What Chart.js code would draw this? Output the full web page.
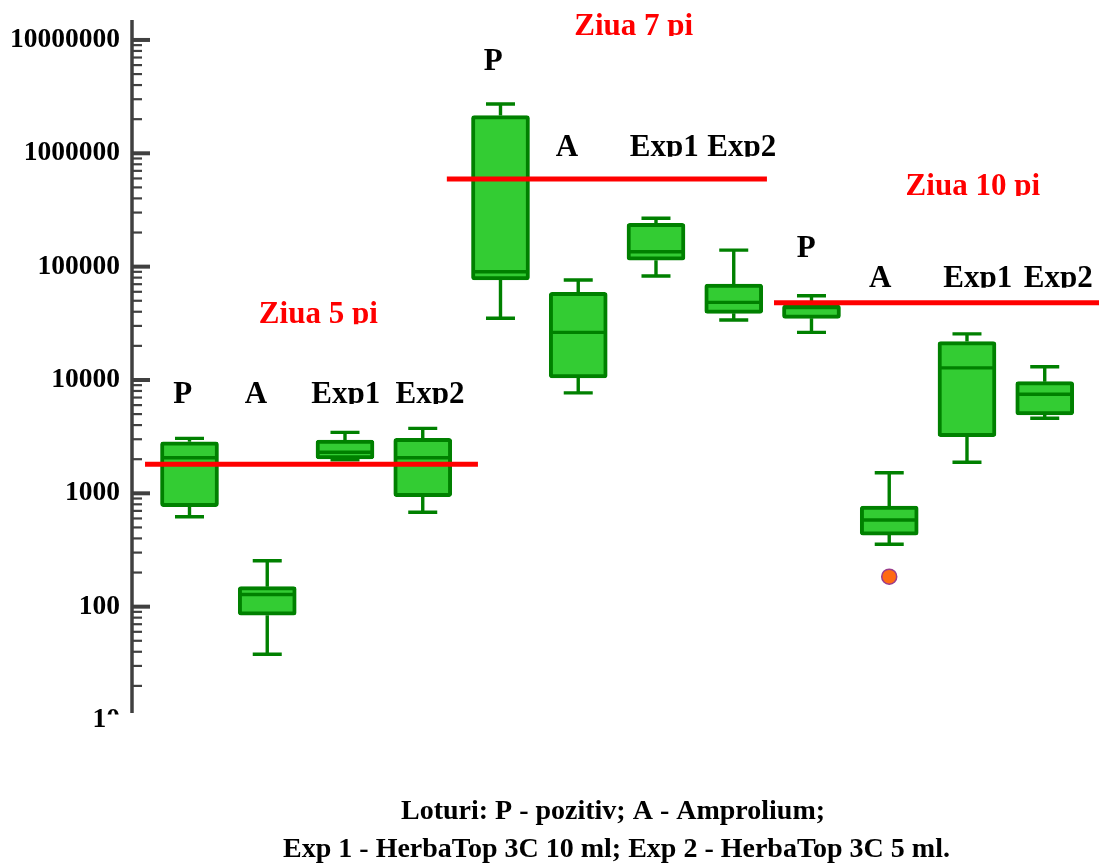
<!DOCTYPE html>
<html><head><meta charset="utf-8">
<script src="https://cdn.jsdelivr.net/npm/chart.js@4/dist/chart.umd.min.js"></script>
<style>html,body{margin:0;padding:0;background:#fff;}</style>
</head><body>
<canvas id="c" width="1099" height="863"></canvas>
<script>
// ---- data ----
const groups = ['P', 'A', 'Exp1', 'Exp2'];
const days = ['Ziua 5 pi', 'Ziua 7 pi', 'Ziua 10 pi'];
const categories = ['P5','A5','Exp1_5','Exp2_5','P7','A7','Exp1_7','Exp2_7','P10','A10','Exp1_10','Exp2_10'];
const whiskerLow  = [622, 38, 1980, 680, 35000, 7690, 82600, 33800, 26300, 355, 1880, 4590];
const q1          = [762, 84, 2010, 933, 76200, 10440, 114000, 38700, 35000, 428, 3160, 4910];
const median      = [2060, 128, 2300, 2060, 90200, 26300, 135500, 48400, 43500, 581, 12800, 7480];
const q3          = [2850, 150, 2950, 3055, 2150000, 59300, 241000, 70300, 45800, 773, 21800, 9660];
const whiskerHigh = [3055, 254, 3450, 3740, 2720000, 76200, 267000, 140000, 55300, 1520, 25500, 13100];
const outlierCat = [9];
const outlierVal = [184];
const refLevel = [1803, 593000, 48000];
const yTickValues = [10, 100, 1000, 10000, 100000, 1000000, 10000000];
const yTickLabels = ['10', '100', '1000', '10000', '100000', '1000000', '10000000'];
const footer = ['Loturi: P - pozitiv; A - Amprolium;', 'Exp 1 - HerbaTop 3C 10 ml; Exp 2 - HerbaTop 3C 5 ml.'];

// ---- styling / layout ----
const GREEN = '#33cc33', DKGREEN = '#008000', RED = '#ff0000', AXIS = '#404040';
const SERIF = '"Liberation Serif", "Times New Roman", serif';
const refSpan = [[-0.572, 3.71], [3.31, 7.427], [7.518, 11.7]];
const groupLabelPos = [
  [182.7, 403], [256, 403], [345.8, 403], [430, 403],
  [493.3, 70], [567, 155.7], [664.2, 155.7], [741.7, 155.7],
  [806.2, 256.7], [880.3, 286.7], [977.8, 286.7], [1058.3, 286.7]
];
const dayTitlePos = [[318.3, 323.3], [633.7, 35], [972.8, 195]];

const datasets = [];
refLevel.forEach((v, d) => {
  datasets.push({
    type: 'line', data: [{x: refSpan[d][0], y: v}, {x: refSpan[d][1], y: v}],
    borderColor: RED, borderWidth: 5, pointRadius: 0, fill: false, clip: false, borderCapStyle: 'butt'
  });
});
datasets.push({
  type: 'line', showLine: false,
  data: outlierCat.map((c, i) => ({x: c, y: outlierVal[i]})),
  pointRadius: 7.5, pointBackgroundColor: '#ff6a13', pointBorderColor: '#9a3d8c', pointBorderWidth: 1.5
});
datasets.push({
  type: 'bar',
  data: categories.map((c, i) => ({x: i, y: [q1[i], q3[i]]})),
  backgroundColor: GREEN, borderColor: DKGREEN, borderWidth: 4, borderSkipped: false, borderRadius: 3,
  barThickness: 58
});
const BAR_INDEX = datasets.length - 1;

function clippedText(ctx, txt, cx, bottom, font, color) {
  ctx.save();
  ctx.beginPath();
  ctx.rect(0, 0, 1099, bottom + 1);
  ctx.clip();
  ctx.font = font; ctx.fillStyle = color;
  ctx.textAlign = 'center'; ctx.textBaseline = 'alphabetic';
  ctx.fillText(txt, cx, bottom);
  ctx.restore();
}

const boxPlugin = {
  id: 'boxPlugin',
  afterDatasetDraw(chart, args) {
    if (args.index !== BAR_INDEX) return;
    const ctx = chart.ctx, x = chart.scales.x, y = chart.scales.y;
    ctx.save();
    ctx.strokeStyle = DKGREEN; ctx.lineCap = 'butt';
    categories.forEach((c, i) => {
      const cx = x.getPixelForValue(i);
      const yLo = y.getPixelForValue(whiskerLow[i]), yQ1 = y.getPixelForValue(q1[i]);
      const yMd = y.getPixelForValue(median[i]), yQ3 = y.getPixelForValue(q3[i]);
      const yHi = y.getPixelForValue(whiskerHigh[i]);
      ctx.lineWidth = 3.4;
      ctx.beginPath();
      ctx.moveTo(cx, yQ3); ctx.lineTo(cx, yHi);
      ctx.moveTo(cx, yQ1); ctx.lineTo(cx, yLo);
      ctx.stroke();
      ctx.beginPath();
      ctx.moveTo(cx - 14.5, yHi); ctx.lineTo(cx + 14.5, yHi);
      ctx.moveTo(cx - 14.5, yLo); ctx.lineTo(cx + 14.5, yLo);
      ctx.stroke();
      ctx.beginPath();
      ctx.moveTo(cx - 27, yMd); ctx.lineTo(cx + 27, yMd);
      ctx.stroke();
    });
    ctx.restore();
  },
  afterDraw(chart) {
    const ctx = chart.ctx, y = chart.scales.y, area = chart.chartArea;
    const ax = area.left;
    ctx.save();
    ctx.strokeStyle = AXIS; ctx.lineWidth = 3.5;
    ctx.beginPath(); ctx.moveTo(ax, area.top); ctx.lineTo(ax, 713); ctx.stroke();
    for (let e = 1; e <= 7; e++) {
      for (let m = 1; m <= 9; m++) {
        const v = m * Math.pow(10, e);
        if (v > y.max || v < y.min) continue;
        const py = y.getPixelForValue(v);
        if (py > 713) continue;
        ctx.lineWidth = m === 1 ? 4 : 2.2;
        ctx.beginPath();
        ctx.moveTo(ax, py); ctx.lineTo(ax + (m === 1 ? 18 : 10), py);
        ctx.stroke();
      }
    }
    const p10 = y.getPixelForValue(yTickValues[0]);
    ctx.beginPath();
    ctx.rect(0, 0, 107, 863);
    ctx.rect(107, 0, 990, 714.5);
    ctx.clip();
    ctx.font = 'bold 27.5px ' + SERIF; ctx.fillStyle = '#000';
    ctx.textAlign = 'right'; ctx.textBaseline = 'middle';
    ctx.fillText(yTickLabels[0], ax - 12, p10);
    ctx.restore();

    categories.forEach((c, i) => {
      clippedText(ctx, groups[i % 4], groupLabelPos[i][0], groupLabelPos[i][1], 'bold 31px ' + SERIF, '#000');
    });
    days.forEach((d, k) => {
      clippedText(ctx, d, dayTitlePos[k][0], dayTitlePos[k][1], 'bold 31px ' + SERIF, RED);
    });
    ctx.save();
    ctx.font = 'bold 28px ' + SERIF; ctx.fillStyle = '#000';
    ctx.textAlign = 'center'; ctx.textBaseline = 'alphabetic';
    ctx.fillText(footer[0], 613, 819);
    ctx.fillText(footer[1], 616.5, 857);
    ctx.restore();
  }
};

new Chart(document.getElementById('c'), {
  type: 'bar',
  data: { datasets },
  plugins: [boxPlugin],
  options: {
    responsive: false, animation: false,
    layout: { autoPadding: false, padding: { top: 20, bottom: 143, left: 0, right: 0 } },
    plugins: { legend: { display: false }, tooltip: { enabled: false } },
    scales: {
      x: { type: 'linear', offset: false, min: -0.7395, max: 11.698, display: false },
      y: {
        type: 'logarithmic', min: 10, max: 15000000,
        grid: { display: false, drawTicks: false },
        border: { display: false },
        afterBuildTicks(scale) { scale.ticks = yTickValues.map(v => ({ value: v })); },
        afterFit(scale) { scale.width = 132; scale.paddingTop = 0; scale.paddingBottom = 0; },
        ticks: {
          padding: 12, color: '#000', autoSkip: false,
          font: { family: SERIF, size: 27.5, weight: 'bold' },
          callback(value) {
            const k = yTickValues.indexOf(value);
            return k > 0 ? yTickLabels[k] : '';
          }
        }
      }
    }
  }
});
</script>
</body></html>
